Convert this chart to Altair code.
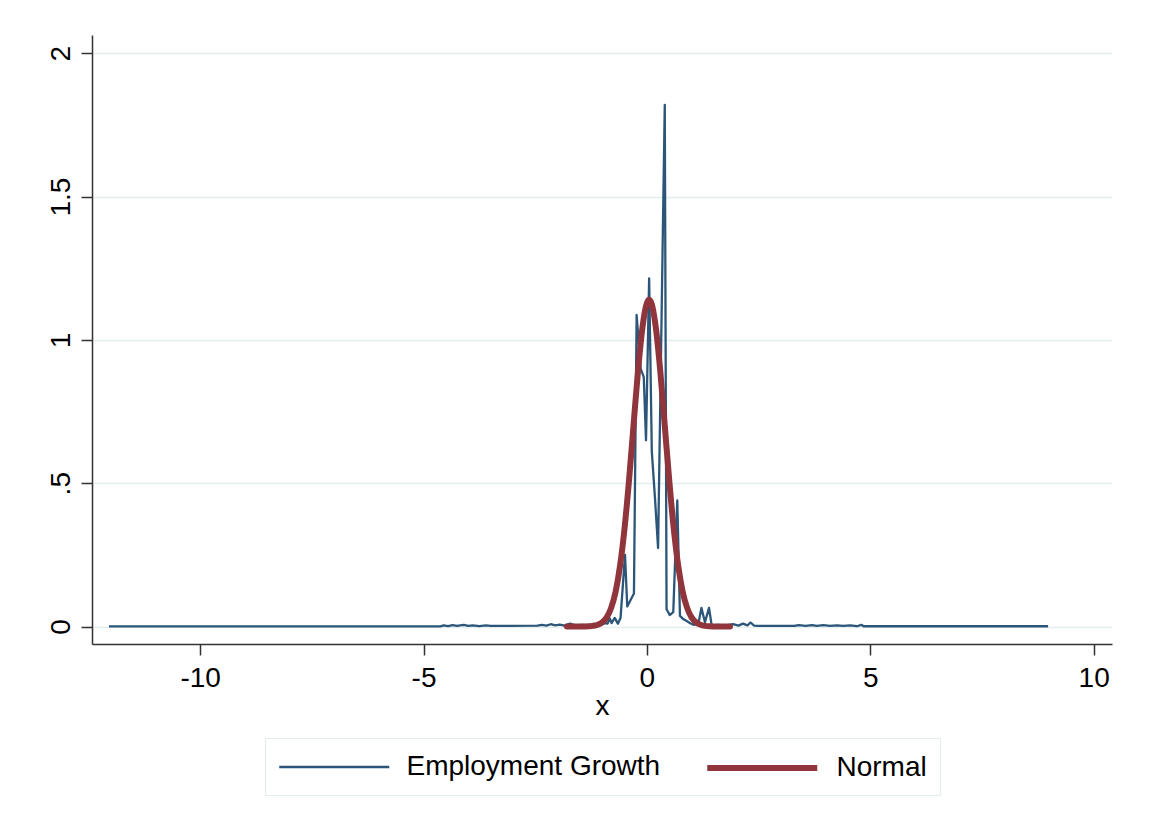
import altair as alt
import pandas as pd

# ---- data ----
emp_x = [-12.04, -4.62, -4.55, -4.45, -4.35, -4.25, -4.1, -4.0, -3.9, -3.75, -3.6, -3.5,
         -2.45, -2.35, -2.25, -2.15, -2.05, -1.95, -1.85, -1.72, -1.6, -1.45, -1.3, -1.2,
         -1.05, -0.95, -0.88, -0.83, -0.79, -0.72, -0.65, -0.59, -0.49, -0.44, -0.29, -0.23,
         -0.14, -0.07, -0.02, 0.05, 0.11, 0.18, 0.25, 0.40, 0.44, 0.51, 0.59, 0.68, 0.74,
         0.82, 0.89, 0.96, 1.04, 1.15, 1.22, 1.30, 1.39, 1.45, 1.6, 1.75, 1.93, 2.05, 2.15,
         2.25, 2.32, 2.4, 2.5, 3.3, 3.4, 3.55, 3.7, 3.8, 3.95, 4.1, 4.25, 4.4, 4.55, 4.7,
         4.8, 4.85, 8.98]
emp_y = [0.0005, 0.0005, 0.004, 0.001, 0.005, 0.002, 0.006, 0.002, 0.004, 0.001, 0.004, 0.002,
         0.003, 0.006, 0.003, 0.008, 0.004, 0.007, 0.003, 0.010, 0.004, 0.006, 0.005, 0.009,
         0.006, 0.012, 0.010, 0.028, 0.012, 0.030, 0.010, 0.030, 0.250, 0.070, 0.115, 1.087,
         0.900, 0.870, 0.650, 1.215, 0.610, 0.450, 0.274, 1.820, 0.060, 0.040, 0.050, 0.440, 0.037,
         0.025, 0.019, 0.012, 0.006, 0.008, 0.065, 0.015, 0.065, 0.004, 0.006, 0.003, 0.008, 0.003, 0.010,
         0.004, 0.014, 0.003, 0.002, 0.002, 0.005, 0.002, 0.005, 0.002, 0.005, 0.002, 0.004, 0.002, 0.004, 0.001,
         0.006, 0.001, 0.001]

norm_x = [-1.79, -1.6, -1.5, -1.4, -1.3, -1.2, -1.1, -1.0, -0.9, -0.8, -0.7, -0.6, -0.5, -0.4,
          -0.3, -0.2, -0.1, 0.0, 0.05, 0.1, 0.2, 0.3, 0.4, 0.5, 0.6, 0.7, 0.8, 0.9, 1.0, 1.1,
          1.2, 1.3, 1.4, 1.5, 1.6, 1.86]
norm_y = [0.0, 0.0, 0.0001, 0.0003, 0.0008, 0.0023, 0.006, 0.0144, 0.032, 0.065, 0.122, 0.213,
          0.343, 0.510, 0.701, 0.890, 1.043, 1.129, 1.14, 1.129, 1.043, 0.890, 0.701, 0.510,
          0.343, 0.213, 0.122, 0.065, 0.032, 0.0144, 0.006, 0.0023, 0.0008, 0.0003, 0.0001, 0.0]

series_names = ["Employment Growth", "Normal"]
series_colors = ["#2b5679", "#90353b"]
series_widths = [2.3, 6]

x_ticks = [-10, -5, 0, 5, 10]
x_tick_labels = ["-10", "-5", "0", "5", "10"]
y_ticks = [0, 0.5, 1, 1.5, 2]
y_tick_labels = ["0", ".5", "1", "1.5", "2"]
x_domain = [-12.42, 10.41]
y_domain = [-0.061, 2.064]

df_emp = pd.DataFrame({"x": emp_x, "y": emp_y, "series": series_names[0]})
df_norm = pd.DataFrame({"x": norm_x, "y": norm_y, "series": series_names[1]})


def label_expr(values, labels):
    return "".join(
        f"datum.value == {v} ? '{l}' : " for v, l in zip(values, labels)
    ) + "datum.label"


FONT = "Liberation Sans"

# legend symbol: a horizontal line drawn with a custom path (8 units long, scaled by sqrt(size)/2)
SYM_R = 13.75            # sqrt(size)/2
SYM_SIZE = (2 * SYM_R) ** 2
SYM_HALF = 4 * SYM_R     # half-length of the drawn line (55 px)
SYM_SHIFT = SYM_HALF - SYM_R

legend = alt.Legend(
    title=None,
    orient="none",
    legendX=173,
    legendY=703,
    direction="horizontal",
    symbolType="M-4,0L4,0",
    symbolSize=SYM_SIZE,
    symbolOffset=SYM_SHIFT,
    labelFont=FONT,
    labelFontSize=28,
    labelColor="black",
    labelOffset=16 + 2 * SYM_HALF - 2 * SYM_R - SYM_SHIFT,
    labelLimit=500,
    columnPadding=34,
    padding=13,
    strokeColor="#e3ecec",
    fillColor="white",
)

color_enc = alt.Color(
    "series:N",
    scale=alt.Scale(domain=series_names, range=series_colors),
    legend=legend,
)
width_enc = alt.StrokeWidth(
    "series:N",
    scale=alt.Scale(domain=series_names, range=series_widths),
    legend=legend,
)

x_enc = alt.X(
    "x:Q",
    scale=alt.Scale(domain=x_domain, nice=False, zero=False),
    axis=alt.Axis(values=x_ticks, title="x", grid=False, labelPadding=9, titlePadding=0,
                  labelExpr=label_expr(x_ticks, x_tick_labels)),
)
y_enc = alt.Y(
    "y:Q",
    scale=alt.Scale(domain=y_domain, nice=False, zero=False),
    axis=alt.Axis(
        values=y_ticks,
        title=None,
        grid=True,
        labelAngle=270,
        labelAlign="center",
        labelBaseline="alphabetic",
        labelPadding=12,
        labelExpr=label_expr(y_ticks, y_tick_labels),
    ),
)

emp_line = alt.Chart(df_emp).mark_line(strokeJoin="round").encode(
    x=x_enc, y=y_enc, color=color_enc, strokeWidth=width_enc
)
norm_line = alt.Chart(df_norm).mark_line(
    strokeCap="round", strokeJoin="round", interpolate="monotone"
).encode(x=x_enc, y=y_enc, color=color_enc, strokeWidth=width_enc)

chart = (
    alt.layer(emp_line, norm_line)
    .properties(
        width=1020,
        height=609,
        autosize=alt.AutoSizeParams(type="none"),
        padding={"left": 92, "top": 35, "right": 38, "bottom": 182},
        background="white",
    )
    .configure_view(stroke=None)
    .configure_axis(
        labelFont=FONT,
        labelFontSize=28,
        labelColor="black",
        titleFont=FONT,
        titleFontSize=28,
        titleFontWeight="normal",
        titleColor="black",
        domainColor="#333333",
        domainWidth=1.5,
        tickColor="#333333",
        tickWidth=1.5,
        tickSize=11,
        gridColor="#e4eeee",
        gridWidth=1.5,
    )
)

chart.save("out.html", embed_options={"renderer": "svg", "actions": False})
